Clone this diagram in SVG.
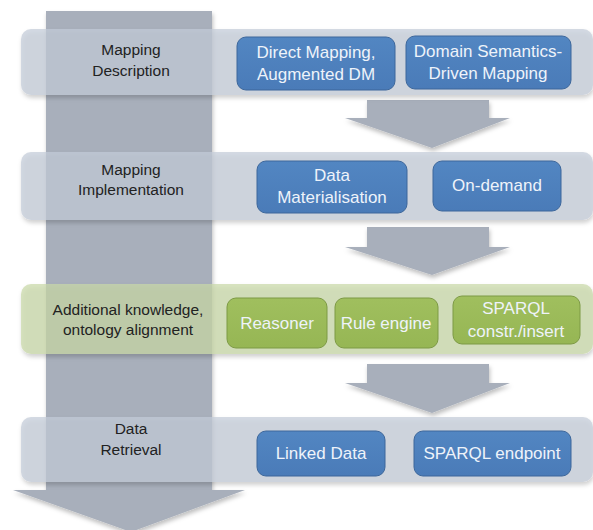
<svg xmlns="http://www.w3.org/2000/svg" width="593" height="530" viewBox="0 0 593 530">
<defs>
<filter id="sh" x="-10%" y="-20%" width="120%" height="150%">
<feDropShadow dx="1" dy="3" stdDeviation="2" flood-color="#000" flood-opacity="0.25"/>
</filter>
<linearGradient id="blueG" x1="0" y1="0" x2="0" y2="1">
<stop offset="0" stop-color="#5286c2"/>
<stop offset="1" stop-color="#4a7bb8"/>
</linearGradient>
<linearGradient id="greenG" x1="0" y1="0" x2="0" y2="1">
<stop offset="0" stop-color="#a0bf5e"/>
<stop offset="1" stop-color="#96b654"/>
</linearGradient>
</defs>
<style>
.arrow{fill:#a8afbb;filter:url(#sh)}
.band{fill:#c4ccd8;fill-opacity:0.72;filter:url(#sh)}
.gband{fill:#c9d8a8;fill-opacity:0.72;filter:url(#sh)}
.box{fill:url(#blueG);stroke:#3d679b;stroke-width:1}
.gbox{fill:url(#greenG);stroke:#7d9a45;stroke-width:1}
.lbl{font-family:"Liberation Sans",Arial,sans-serif;font-size:15.5px;fill:#222;text-anchor:middle}
.bt{font-family:"Liberation Sans",Arial,sans-serif;font-size:17px;fill:#eef3fa;text-anchor:middle}
</style>
<g id="main-arrow">
<polygon class="arrow" points="46,11 212,11 212,490 245,490 131,532 13,490 46,490"/>
</g>
<g id="connectors">
<polygon class="arrow" points="367,100 489,100 489,118 510,118 432,148 345,118 367,118"/>
<polygon class="arrow" points="367,227 489,227 489,247 510,247 432,275 345,247 367,247"/>
<polygon class="arrow" points="367,364 489,364 489,383 510,383 432,413 345,383 367,383"/>
</g>
<g id="band-mapping-description">
<rect class="band" x="21" y="29" width="572" height="66" rx="10"/>
<text class="lbl" x="131" y="55">Mapping</text>
<text class="lbl" x="131" y="76">Description</text>
</g>
<g id="band-mapping-implementation">
<rect class="band" x="21" y="152" width="572" height="68" rx="10"/>
<text class="lbl" x="131" y="175">Mapping</text>
<text class="lbl" x="131" y="195">Implementation</text>
</g>
<g id="band-additional-knowledge">
<rect class="gband" x="21" y="284" width="572" height="70" rx="10"/>
<text class="lbl" x="128" y="315">Additional knowledge,</text>
<text class="lbl" x="128" y="335">ontology alignment</text>
</g>
<g id="band-data-retrieval">
<rect class="band" x="21" y="417" width="572" height="65" rx="10"/>
<text class="lbl" x="131" y="434">Data</text>
<text class="lbl" x="131" y="455">Retrieval</text>
</g>
<g id="node-direct-mapping">
<rect class="box" x="237" y="37" width="158" height="53" rx="9"/>
<text class="bt" x="316" y="58">Direct Mapping,</text>
<text class="bt" x="316" y="80">Augmented DM</text>
</g>
<g id="node-domain-semantics">
<rect class="box" x="406" y="36" width="165" height="53" rx="9"/>
<text class="bt" x="488" y="57">Domain Semantics-</text>
<text class="bt" x="488" y="79">Driven Mapping</text>
</g>
<g id="node-data-materialisation">
<rect class="box" x="257" y="161" width="150" height="52" rx="9"/>
<text class="bt" x="332" y="181">Data</text>
<text class="bt" x="332" y="203">Materialisation</text>
</g>
<g id="node-on-demand">
<rect class="box" x="433" y="161" width="128" height="50" rx="9"/>
<text class="bt" x="497" y="191">On-demand</text>
</g>
<g id="node-reasoner">
<rect class="gbox" x="227" y="298" width="100" height="50" rx="9"/>
<text class="bt" x="277" y="329">Reasoner</text>
</g>
<g id="node-rule-engine">
<rect class="gbox" x="335" y="298" width="103" height="50" rx="9"/>
<text class="bt" x="386" y="329">Rule engine</text>
</g>
<g id="node-sparql-construct">
<rect class="gbox" x="453" y="296" width="127" height="48" rx="9"/>
<text class="bt" x="516" y="314">SPARQL</text>
<text class="bt" x="516" y="337">constr./insert</text>
</g>
<g id="node-linked-data">
<rect class="box" x="257" y="431" width="128" height="45" rx="9"/>
<text class="bt" x="321" y="459">Linked Data</text>
</g>
<g id="node-sparql-endpoint">
<rect class="box" x="414" y="431" width="157" height="45" rx="9"/>
<text class="bt" x="492" y="459">SPARQL endpoint</text>
</g>
</svg>
